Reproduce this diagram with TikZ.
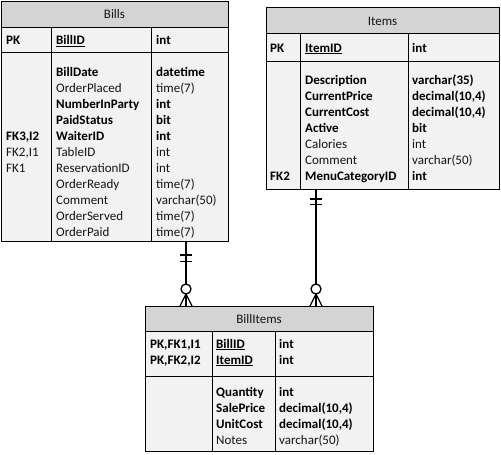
\documentclass[tikz,border=0pt]{standalone}
\usepackage{fontspec}
\setmainfont{Carlito}
\usetikzlibrary{calc}
\definecolor{hdrgray}{RGB}{212,212,212}
\definecolor{bodygray}{RGB}{242,242,242}
\definecolor{txtgray}{RGB}{20,20,20}
\begin{document}
\begin{tikzpicture}[x=1pt,y=-1pt,
  tbl/.style={draw=black, fill=bodygray, line width=0.9pt, inner sep=0pt, outer sep=0pt, anchor=north west},
  hdr/.style={draw=black, fill=hdrgray, line width=0.9pt, inner sep=0pt, outer sep=0pt, anchor=north west},
  sep/.style={draw=black, line width=0.9pt},
  ttl/.style={anchor=base, inner sep=0pt, font=\fontsize{13}{16}\selectfont, text=txtgray},
  reg/.style={anchor=base west, inner sep=0pt, font=\fontsize{13}{16}\selectfont, text=txtgray},
  bld/.style={anchor=base west, inner sep=0pt, font=\fontsize{13}{16}\selectfont\bfseries, text=black},
  conn/.style={draw=black, line width=1.3pt},
]
\fill[white] (0,0) rectangle (501,455);
\useasboundingbox (0,0) rectangle (501,455);

% ---------- Bills ----------
\node[tbl, minimum width=227pt, minimum height=240pt] (bills) at (1,1) {};
\node[hdr, minimum width=227pt, minimum height=26pt] (billsH) at (1,1) {};
\node[ttl] (billsT) at (114.5,18) {Bills};
\draw[sep] (1,52) -- (228,52);
\draw[sep] (51,27) -- (51,241);
\draw[sep] (151,27) -- (151,241);
\node[bld] (bpk) at (6,45) {PK};
\node[bld] (bpkn) at (56,45) {\underline{BillID}};
\node[bld] (bpkt) at (156,45) {int};
\foreach \i/\s/\a/\b/\c in {
  0/bld//BillDate/datetime,
  1/reg//OrderPlaced/time(7),
  2/bld//NumberInParty/int,
  3/bld//PaidStatus/bit,
  4/bld/{FK3,I2}/WaiterID/int,
  5/reg/{FK2,I1}/TableID/int,
  6/reg/FK1/ReservationID/int,
  7/reg//OrderReady/time(7),
  8/reg//Comment/varchar(50),
  9/reg//OrderServed/time(7),
  10/reg//OrderPaid/time(7)}
{
  \node[\s] (bk\i) at (6,76+16.05*\i) {\a};
  \node[\s] (bn\i) at (56,76+16.05*\i) {\b};
  \node[\s] (bt\i) at (156,76+16.05*\i) {\c};
}

% ---------- Items ----------
\node[tbl, minimum width=233pt, minimum height=182pt] (items) at (266,7) {};
\node[hdr, minimum width=233pt, minimum height=26pt] (itemsH) at (266,7) {};
\node[ttl] (itemsT) at (382.5,25.5) {Items};
\draw[sep] (266,61) -- (499,61);
\draw[sep] (300,33) -- (300,189);
\draw[sep] (408,33) -- (408,189);
\node[bld] (ipk) at (270,52) {PK};
\node[bld] (ipkn) at (305,52) {\underline{ItemID}};
\node[bld] (ipkt) at (412,52) {int};
\foreach \i/\s/\a/\b/\c in {
  0/bld//Description/varchar(35),
  1/bld//CurrentPrice/{decimal(10,4)},
  2/bld//CurrentCost/{decimal(10,4)},
  3/bld//Active/bit,
  4/reg//Calories/int,
  5/reg//Comment/varchar(50),
  6/bld/FK2/MenuCategoryID/int}
{
  \node[\s] (ik\i) at (270,84+16*\i) {\a};
  \node[\s] (in\i) at (305,84+16*\i) {\b};
  \node[\s] (it\i) at (412,84+16*\i) {\c};
}

% ---------- BillItems ----------
\node[tbl, minimum width=228pt, minimum height=145pt] (billitems) at (145,306) {};
\node[hdr, minimum width=228pt, minimum height=25pt] (billitemsH) at (145,306) {};
\node[ttl] (billitemsT) at (259,323) {BillItems};
\draw[sep] (145,376) -- (373,376);
\draw[sep] (212,331) -- (212,451);
\draw[sep] (275,331) -- (275,451);
\node[bld] (pk1) at (150,348) {PK,FK1,I1};
\node[bld] (pk1n) at (216,348) {\underline{BillID}};
\node[bld] (pk1t) at (279,348) {int};
\node[bld] (pk2) at (150,364) {PK,FK2,I2};
\node[bld] (pk2n) at (216,364) {\underline{ItemID}};
\node[bld] (pk2t) at (279,364) {int};
\foreach \i/\s/\b/\c in {
  0/bld/Quantity/int,
  1/bld/SalePrice/{decimal(10,4)},
  2/bld/UnitCost/{decimal(10,4)},
  3/reg/Notes/varchar(50)}
{
  \node[\s] (jn\i) at (216,396+16*\i) {\b};
  \node[\s] (jt\i) at (279,396+16*\i) {\c};
}

% ---------- Connectors ----------
\coordinate (lx) at (186,0);
\coordinate (rx) at (316,0);
% Bills -> BillItems
\draw[conn] (bills.south -| lx) -- (billitems.north -| lx);
\draw[conn] ($(bills.south -| lx)+(-6,14)$) -- ++(12,0);
\draw[conn] ($(bills.south -| lx)+(-6,20.5)$) -- ++(12,0);
\draw[conn] ($(billitems.north -| lx)+(0,-12)$) -- ($(billitems.north -| lx)+(-6,0)$);
\draw[conn] ($(billitems.north -| lx)+(0,-12)$) -- ($(billitems.north -| lx)+(6,0)$);
\draw[conn, fill=white] ($(billitems.north -| lx)+(0,-17)$) circle (5pt);
% Items -> BillItems
\draw[conn] (items.south -| rx) -- (billitems.north -| rx);
\draw[conn] ($(items.south -| rx)+(-6,10)$) -- ++(12,0);
\draw[conn] ($(items.south -| rx)+(-6,15.5)$) -- ++(12,0);
\draw[conn] ($(billitems.north -| rx)+(0,-12)$) -- ($(billitems.north -| rx)+(-6,0)$);
\draw[conn] ($(billitems.north -| rx)+(0,-12)$) -- ($(billitems.north -| rx)+(6,0)$);
\draw[conn, fill=white] ($(billitems.north -| rx)+(0,-17)$) circle (5pt);
\end{tikzpicture}
\end{document}
